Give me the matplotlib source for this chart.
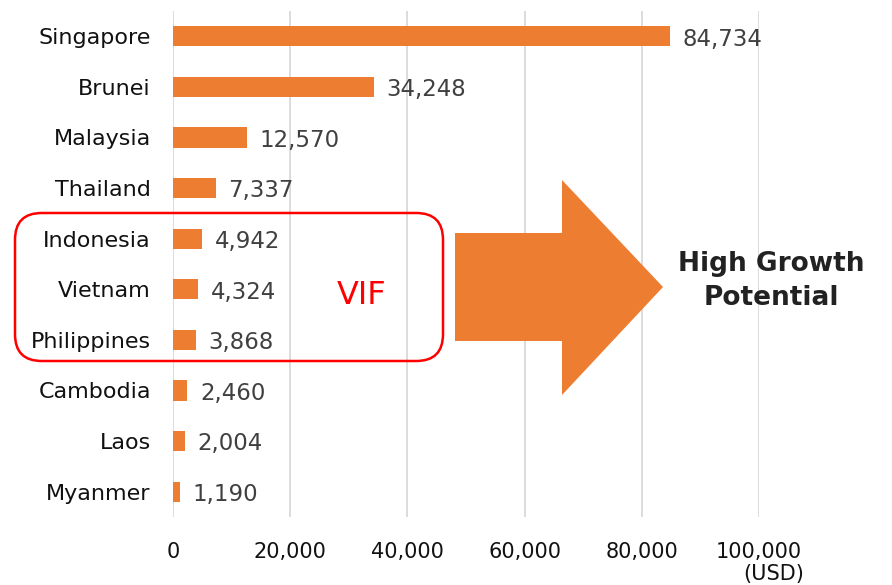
import matplotlib
matplotlib.use("Agg")
import matplotlib.pyplot as plt
from matplotlib.patches import FancyBboxPatch, Polygon

countries = ["Singapore", "Brunei", "Malaysia", "Thailand", "Indonesia",
             "Vietnam", "Philippines", "Cambodia", "Laos", "Myanmer"]
gdp = [84734, 34248, 12570, 7337, 4942, 4324, 3868, 2460, 2004, 1190]
xticks = [0, 20000, 40000, 60000, 80000, 100000]
xtick_labels = ["0", "20,000", "40,000", "60,000", "80,000", "100,000"]

W, H = 892, 585
fig = plt.figure(figsize=(W / 100, H / 100), dpi=100)
plt.rcParams['font.family'] = ['DejaVu Sans']

def fx(x):
    return x / W

def fy(y):
    return 1 - y / H

ax = fig.add_axes([fx(173), fy(517), fx(759) - fx(173), fy(11) - fy(517)])
bar_color = "#ED7D31"
ypos = list(range(len(countries)))
ax.barh(ypos, gdp, height=0.4, color=bar_color, zorder=3)
ax.set_ylim(len(countries) - 0.5, -0.5)
ax.set_xlim(0, 100000)
ax.set_yticks(ypos)
ax.set_yticklabels(countries, fontsize=16, color="#111111")
ax.set_xticks(xticks)
ax.set_xticklabels(xtick_labels, fontsize=15, color="#111111")
ax.tick_params(axis="y", length=0, pad=16)
ax.tick_params(axis="x", length=0, pad=18)
for s in ax.spines.values():
    s.set_visible(False)
ax.grid(axis="x", color="#d9d9d9", linewidth=1.3, zorder=0)
ax.grid(axis="y", visible=False)

for yi, v in zip(ypos, gdp):
    ax.annotate(f"{v:,}", xy=(v, yi), xytext=(9, -2), textcoords="offset points",
                va="center", ha="left", fontsize=16.5, color="#404040")

fig.text(fx(774), fy(574), "(USD)", fontsize=15, color="#111111", ha="center", va="center")

# VIF box
box = FancyBboxPatch((fx(15), fy(361)), fx(443) - fx(15), fy(213) - fy(361),
                     boxstyle="round,pad=0,rounding_size=0.03",
                     transform=fig.transFigure, fill=False, edgecolor="#FF0000",
                     linewidth=1.8, mutation_aspect=W / H)
fig.add_artist(box)
fig.text(fx(362), fy(295), "VIF", color="#FF0000", fontsize=23, ha="center", va="center")

# Arrow
arrow_pts = [(455, 233), (562, 233), (562, 180), (663, 287), (562, 395), (562, 341), (455, 341)]
arrow = Polygon([(fx(x), fy(y)) for x, y in arrow_pts], closed=True,
                transform=fig.transFigure, facecolor=bar_color, edgecolor="none")
fig.add_artist(arrow)

fig.text(fx(771), fy(281), "High Growth\nPotential", fontsize=19, fontweight="bold",
         color="#222222", ha="center", va="center", linespacing=1.4)

fig.savefig("out.png", dpi=100)
